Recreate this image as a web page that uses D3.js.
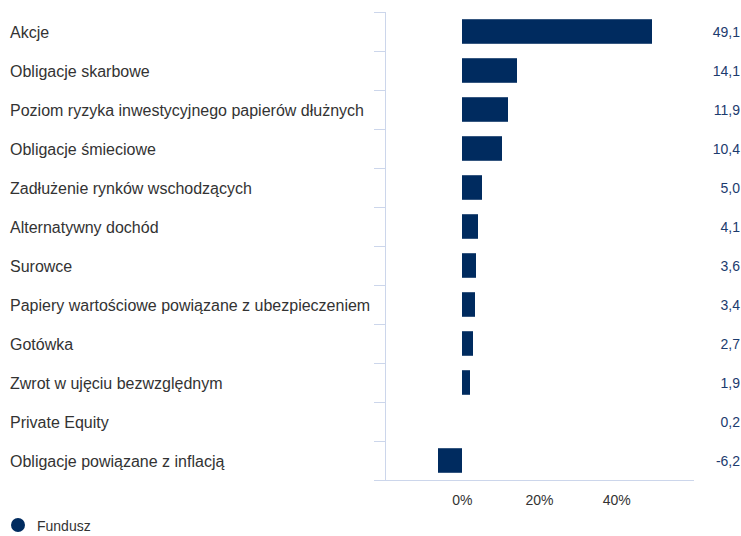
<!DOCTYPE html>
<html><head><meta charset="utf-8">
<script src="https://cdn.jsdelivr.net/npm/d3@7"></script>
<style>body{margin:0;background:#fff;} svg{display:block;font-family:"Liberation Sans",Arial,sans-serif;}</style>
</head><body>
<svg id="c" width="741" height="536"></svg>
<script>
const categories = ["Akcje","Obligacje skarbowe","Poziom ryzyka inwestycyjnego papierów dłużnych","Obligacje śmieciowe","Zadłużenie rynków wschodzących","Alternatywny dochód","Surowce","Papiery wartościowe powiązane z ubezpieczeniem","Gotówka","Zwrot w ujęciu bezwzględnym","Private Equity","Obligacje powiązane z inflacją"];
const values = [49.1,14.1,11.9,10.4,5.0,4.1,3.6,3.4,2.7,1.9,0.2,-6.2];
const xTicks = [0,20,40];
const seriesName = "Fundusz";

(function(){
const svg = d3.select("#c");
const pL = 385, pR = 694, pT = 12, pB = 480;
const x = d3.scaleLinear().domain([-20,60]).range([pL,pR]);
const y = d3.scaleBand().domain(categories).range([pT,pB]).paddingInner(0.37).paddingOuter(0.185);
const yb = d3.scaleBand().domain(categories).range([pT,pB]);
const axisCol = "#ccd6eb", barCol = "#002b5f";

const bounds = categories.map((c)=>yb(c)).concat([pB]);
svg.append("g").selectAll("line").data(bounds).join("line")
  .attr("x1",374).attr("x2",pL).attr("y1",d=>Math.round(d)+0.5).attr("y2",d=>Math.round(d)+0.5)
  .attr("stroke",axisCol).attr("stroke-width",1);
svg.append("line").attr("x1",pL+0.5).attr("x2",pL+0.5).attr("y1",pT).attr("y2",pB)
  .attr("stroke",axisCol);
svg.append("line").attr("x1",374).attr("x2",pR).attr("y1",pB+0.5).attr("y2",pB+0.5)
  .attr("stroke",axisCol);

svg.append("g").selectAll("rect").data(values).join("rect")
  .attr("x",(d)=>Math.round(x(Math.min(0,d))))
  .attr("width",(d)=>Math.round(x(Math.max(0,d))) - Math.round(x(Math.min(0,d))) - (Math.abs(d)<0.5?1:0))
  .attr("y",(d,i)=>y(categories[i]))
  .attr("height",y.bandwidth())
  .attr("fill",barCol);

svg.append("g").selectAll("text").data(categories).join("text")
  .attr("x",10).attr("y",c=>yb(c)+yb.bandwidth()/2+1).attr("dy","0.35em")
  .attr("font-size",16).attr("fill","#333").text(c=>c);

svg.append("g").selectAll("text").data(values).join("text")
  .attr("x",740).attr("y",(d,i)=>yb(categories[i])+yb.bandwidth()/2+1).attr("dy","0.35em")
  .attr("text-anchor","end").attr("font-size",14).attr("fill","#1c3b6e")
  .text(d=>d.toFixed(1).replace(".",","));

svg.append("g").selectAll("text").data(xTicks).join("text")
  .attr("x",d=>x(d)).attr("y",505).attr("text-anchor","middle")
  .attr("font-size",14).attr("fill","#333").text(d=>d+"%");

svg.append("circle").attr("cx",18).attr("cy",525).attr("r",7).attr("fill",barCol);
svg.append("text").attr("x",37).attr("y",526).attr("dy","0.35em").attr("font-size",14).attr("fill","#333").text(seriesName);
})();
</script>
</body></html>
